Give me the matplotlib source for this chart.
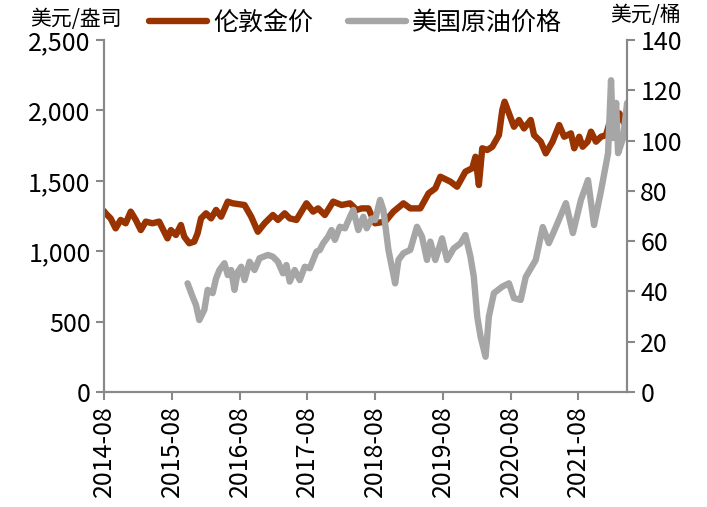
import matplotlib
matplotlib.use('Agg')
import matplotlib.pyplot as plt
import matplotlib.ticker as mticker

plt.rcParams['font.family'] = ['Noto Sans CJK SC', 'DejaVu Sans']

# dates as decimal years
# 伦敦金价 (USD/oz)
gold_t = [2014.583, 2014.608, 2014.682, 2014.756, 2014.830, 2014.904, 2014.979,
          2015.053, 2015.127, 2015.201, 2015.299, 2015.398, 2015.472, 2015.521,
          2015.571, 2015.645, 2015.719, 2015.768, 2015.842, 2015.916, 2015.965,
          2016.016, 2016.090, 2016.164, 2016.238, 2016.312, 2016.410, 2016.484,
          2016.657, 2016.756, 2016.854, 2016.953, 2017.076, 2017.150, 2017.250,
          2017.324, 2017.423, 2017.571, 2017.669, 2017.743, 2017.842, 2017.965,
          2018.090, 2018.213, 2018.312, 2018.386, 2018.484, 2018.583, 2018.731,
          2018.854, 2019.002, 2019.102, 2019.250, 2019.373, 2019.472, 2019.546,
          2019.694, 2019.793, 2019.916, 2020.016, 2020.064, 2020.114, 2020.164,
          2020.238, 2020.312, 2020.410, 2020.460, 2020.494, 2020.558, 2020.632,
          2020.706, 2020.780, 2020.879, 2020.928, 2021.027, 2021.101, 2021.201,
          2021.299, 2021.373, 2021.472, 2021.521, 2021.595, 2021.645, 2021.719,
          2021.768, 2021.842, 2021.916, 2021.990, 2022.039, 2022.113, 2022.187,
          2022.261, 2022.301]
gold_price = [1285, 1269, 1233, 1162, 1222, 1198, 1281,
              1222, 1150, 1210, 1198, 1210, 1138, 1091,
              1150, 1115, 1186, 1103, 1056, 1068, 1127,
              1233, 1269, 1233, 1293, 1245, 1352, 1340,
              1328, 1245, 1138, 1198, 1257, 1222, 1269,
              1233, 1222, 1340, 1281, 1304, 1257, 1352,
              1328, 1340, 1293, 1304, 1304, 1198, 1210,
              1281, 1340, 1304, 1304, 1411, 1446, 1529,
              1494, 1458, 1565, 1589, 1671, 1470, 1731,
              1719, 1742, 1825, 2003, 2062, 1979, 1884,
              1932, 1872, 1932, 1825, 1778, 1695, 1778,
              1896, 1813, 1837, 1731, 1813, 1742, 1778,
              1849, 1778, 1813, 1825, 1908, 1837, 1979,
              1908, 1849]

# 美国原油价格 (USD/bbl)
oil_t = [2015.817, 2015.891, 2015.941, 2015.990, 2016.064, 2016.113, 2016.187,
         2016.238, 2016.287, 2016.361, 2016.410, 2016.460, 2016.509, 2016.558,
         2016.608, 2016.657, 2016.731, 2016.805, 2016.879, 2017.002, 2017.076,
         2017.150, 2017.224, 2017.275, 2017.324, 2017.398, 2017.472, 2017.546,
         2017.620, 2017.719, 2017.768, 2017.817, 2017.891, 2017.941, 2017.990,
         2018.064, 2018.139, 2018.213, 2018.262, 2018.336, 2018.410, 2018.460,
         2018.534, 2018.583, 2018.657, 2018.706, 2018.780, 2018.830, 2018.879,
         2018.928, 2019.002, 2019.102, 2019.201, 2019.275, 2019.349, 2019.398,
         2019.472, 2019.571, 2019.645, 2019.743, 2019.842, 2019.916, 2019.990,
         2020.039, 2020.090, 2020.139, 2020.213, 2020.262, 2020.336, 2020.460,
         2020.558, 2020.632, 2020.731, 2020.805, 2020.953, 2021.057, 2021.146,
         2021.250, 2021.398, 2021.501, 2021.620, 2021.724, 2021.813, 2021.916,
         2022.020, 2022.064, 2022.094, 2022.139, 2022.168, 2022.242, 2022.301]
oil_price = [43.2, 37.9, 34.6, 28.6, 32.6, 40.6, 39.3,
             45.2, 48.5, 51.2, 46.5, 48.5, 40.6, 47.8,
             49.8, 44.5, 51.8, 48.5, 53.2, 54.5, 53.8,
             51.8, 47.2, 50.5, 43.9, 48.5, 44.5, 49.8,
             49.2, 55.8, 56.5, 59.1, 61.8, 64.4, 60.5,
             65.7, 65.1, 69.7, 72.4, 64.4, 69.7, 65.1,
             69.0, 68.4, 76.4, 72.4, 56.5, 49.8, 43.2,
             52.5, 55.2, 56.5, 65.7, 61.8, 52.5, 59.8,
             52.5, 61.1, 52.5, 57.1, 59.1, 62.4, 53.8,
             45.9, 30.0, 22.0, 14.0, 30.0, 39.3, 41.9,
             43.2, 37.3, 36.6, 45.7, 52.5, 65.6, 59.2,
             65.6, 75.1, 63.2, 76.4, 84.3, 66.4, 80.0,
             95.0, 124.0, 101.0, 115.0, 95.0, 101.0, 115.0]

tick_labels = ['2014-08', '2015-08', '2016-08', '2017-08',
               '2018-08', '2019-08', '2020-08', '2021-08']
tick_pos = [int(s[:4]) + (int(s[5:]) - 1) / 12 for s in tick_labels]

gold_color = '#993300'
oil_color = '#A6A6A6'
spine_color = '#898989'

fig = plt.figure(figsize=(7.07, 5.07), dpi=100)
ax = fig.add_axes([0.147, 0.227, 0.740, 0.694])
ax2 = ax.twinx()

l1, = ax.plot(gold_t, gold_price, color=gold_color, lw=4.6,
              solid_capstyle='round', solid_joinstyle='round')
l2, = ax2.plot(oil_t, oil_price, color=oil_color, lw=4.6,
               solid_capstyle='round', solid_joinstyle='round')

ax.set_xlim(tick_pos[0], gold_t[-1])
ax.set_ylim(0, 2500)
ax2.set_ylim(0, 140)
ax.set_yticks(range(0, 2501, 500))
ax2.set_yticks(range(0, 141, 20))
ax.yaxis.set_major_formatter(mticker.FuncFormatter(lambda v, p: f'{int(v):,}'))

ax.set_xticks(tick_pos)
ax.set_xticklabels(tick_labels, rotation=90)

for a in (ax, ax2):
    a.spines['top'].set_visible(False)
    for s in ('left', 'right', 'bottom'):
        a.spines[s].set_color(spine_color)
        a.spines[s].set_linewidth(1.5)
    a.tick_params(colors=spine_color, labelcolor='black', labelsize=18,
                  width=1.5, length=6)

fig.text(0.108, 0.962, '美元/盎司', ha='center', va='center', fontsize=15)
fig.text(0.913, 0.970, '美元/桶', ha='center', va='center', fontsize=15)

fig.legend([l1, l2], ['伦敦金价', '美国原油价格'], loc='center',
           bbox_to_anchor=(0.503, 0.956), ncol=2, frameon=False,
           prop={'size': 18}, handlelength=2.3, handletextpad=0.25,
           columnspacing=1.4)

fig.savefig('out.png', dpi=100)
